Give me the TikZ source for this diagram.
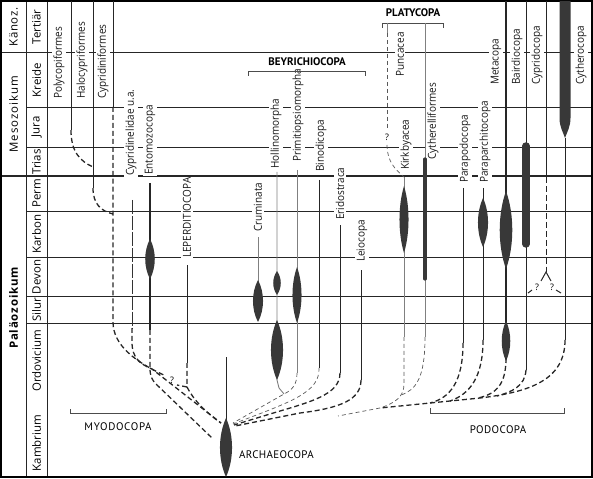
\documentclass[tikz,border=0pt]{standalone}
\usepackage{fontspec}
\setmainfont{Open Sans}
\newfontfamily\ptsans{PT Sans}
\newfontfamily\labfont{Open Sans}[FakeStretch=0.91]
\newcommand\spind[4]{\fill[spin] (#1,#2) .. controls ({#1+0.67*#4},{0.7*#2+0.3*#3}) and ({#1+0.67*#4},{0.3*#2+0.7*#3}) .. (#1,#3) .. controls ({#1-0.67*#4},{0.3*#2+0.7*#3}) and ({#1-0.67*#4},{0.7*#2+0.3*#3}) .. cycle;}
\begin{document}
\begin{tikzpicture}[x=1bp,y=-1bp,
  grid/.style={line width=0.8pt, black!85},
  lin/.style={line width=1pt, black!85},
  glin/.style={line width=0.9pt, black!50},
  dsh/.style={line width=1.3pt, black!85, dash pattern=on 5pt off 3pt},
  ldsh/.style={line width=1pt, black!80, dash pattern=on 14pt off 2pt},
  tdsh/.style={line width=0.7pt, black!65, dash pattern=on 4pt off 3pt},
  lab/.style={rotate=90, anchor=west, font=\labfont\fontsize{11}{12}\selectfont, inner xsep=1pt, inner ysep=1.5pt, fill=white, text=black!90},
  plab/.style={rotate=90, font=\fontsize{11.5}{12}\selectfont, inner sep=1pt},
  spin/.style={fill=black!78},
  brk/.style={line width=0.8pt, black!70},
  grp/.style={font=\ptsans\fontsize{11}{11}\selectfont\bfseries, inner sep=1pt},
  grpn/.style={font=\ptsans\fontsize{11}{11}\selectfont, inner sep=1pt},
  q/.style={font=\fontsize{9}{9}\selectfont, inner sep=0pt}]
\useasboundingbox (0,0) rectangle (593,479);
% grid
\draw[grid] (26,1) -- (26,477);
\draw[grid] (47,1) -- (47,477);
\draw[grid] (1,52) -- (592,52);
\foreach \yy in {107,147,211,257,296,323} \draw[grid] (26,\yy) -- (592,\yy);
\draw[grid, line width=1.6pt] (1,176) -- (592,176);
\draw[line width=1.8pt] (1,1) rectangle (592,477);
% era and period labels
\node[plab] (kz) at (13.5,27) {\addfontfeature{LetterSpace=6}Känoz.};
\node[plab] (mz) at (13.5,114) {\addfontfeature{LetterSpace=9}Mesozoikum};
\node[plab, font=\fontsize{11.5}{12}\selectfont\bfseries] (pz) at (13.5,308) {\addfontfeature{LetterSpace=7}Paläozoikum};
\node[plab] (te) at (36.5,27) {Tertiär};
\node[plab] (kr) at (36.5,80) {Kreide};
\node[plab] (ju) at (36.5,127) {Jura};
\node[plab] (tr) at (36.5,162) {Trias};
\node[plab] (pe) at (36.5,193) {Perm};
\node[plab] (ka) at (36.5,234) {Karbon};
\node[plab] (de) at (36.5,277) {Devon};
\node[plab] (si) at (36.5,310) {Silur};
\node[plab] (or) at (36.5,361) {Ordovicium};
\node[plab] (kb) at (36.5,443) {Kambrium};
% lineage labels
\node[lab] (poly) at (59,100) {Polycopiformes};
\node[lab] (halo) at (82,100) {Halocypriformes};
\node[lab] (cypn) at (103,100) {Cypridiniformes};
\node[lab] (cypl) at (131,177) {Cypridinelidae u.a.};
\node[lab] (ento) at (150,176) {Entomozocopa};
\node[lab] (lepe) at (187,259) {LEPERDITIOCOPA};
\node[lab] (crum) at (258,233) {Cruminata};
\node[lab] (holl) at (276,170) {Hollinomorpha};
\node[lab] (prim) at (298,163) {Primitiopsiomorpha};
\node[lab] (bino) at (321,173) {Binodicopa};
\node[lab] (erid) at (340,221) {Eridostraca};
\node[lab] (leio) at (362,263) {Leiocopa};
\node[lab] (punc) at (400,78) {Puncacea};
\node[lab] (kirk) at (406,171) {Kirkbyacea};
\node[lab] (cyth) at (433,161) {Cytherelliformes};
\node[lab] (parp) at (465,184) {Parapodocopa};
\node[lab] (para) at (485,184) {Paraparchitocopa};
\node[lab] (meta) at (496,86) {Metacopa};
\node[lab] (bair) at (517,86) {Bairdiocopa};
\node[lab] (cypr) at (537,86) {Cypridocopa};
\node[lab] (cyte) at (581,86) {Cytherocopa};
% group labels and brackets
\node[grp] (beyr) at (307,62) {BEYRICHIOCOPA};
\draw[brk] (248,76) -- (248,71) -- (365,71) -- (365,76);
\node[grp] (plat) at (413,13) {PLATYCOPA};
\draw[brk] (382,28) -- (382,23) -- (443,23) -- (443,28);
\node[grpn] (myod) at (118,427) {\addfontfeature{LetterSpace=6}MYODOCOPA};
\draw[brk] (70,409) -- (70,413) -- (166,413) -- (166,409);
\node[grpn] (podo) at (498,430) {\addfontfeature{LetterSpace=4}PODOCOPA};
\draw[brk] (430,408) -- (430,413) -- (564,413) -- (564,408);
\node[grpn, anchor=west] (arch) at (238,455) {\addfontfeature{LetterSpace=3}ARCHAEOCOPA};
% Myodocopa
\draw[lin] (71,1) -- (71,130);
\draw[dsh] (71,130) .. controls (71,152) and (80,161) .. (93,167);
\draw[lin] (93,1) -- (93,188);
\draw[dsh] (93,188) .. controls (93,204) and (101,211) .. (113,214);
\draw[lin] (113,1) -- (113,107);
\draw[dsh] (113,107) -- (113,322) .. controls (113,345) and (135,362) .. (166,376);
\draw[ldsh] (132,200) -- (132,328);
\draw[dsh] (132,328) -- (132,342) .. controls (132,358) and (140,364) .. (152,369) -- (221,423);
\draw[lin, line width=1.8pt] (150,183) -- (150,330);
\spind{150}{239}{279}{9.5}
\draw[dsh] (150,330) -- (150,368) .. controls (150,376) and (152,380) .. (156,384) -- (212,438);
\draw[lin] (187,265) -- (187,363);
\draw[dsh] (187,363) -- (187,387) -- (177,385);
\draw[dsh] (187,387) .. controls (193,399) and (205,412) .. (221,423);
\node[q] (q1) at (172,380) {?};
% Archaeocopa
\draw[lin] (226,357) -- (226,425);
\spind{226}{418}{477}{12}
% Beyrichiocopa
\draw[glin] (258,237) -- (258,282);
\spind{258}{280}{322}{10}
\draw[glin] (277,172) -- (277,380) -- (279,388) -- (284,394);
\spind{277}{271}{295}{7.5}
\spind{277}{320}{380}{12}
\draw[glin] (297,170) -- (297,373);
\spind{297}{267}{323}{9}
\draw[tdsh] (297,373) .. controls (297,385) and (292,390) .. (284,394) -- (233,423);
\draw[lin] (319,180) -- (319,368);
\draw[tdsh] (319,368) .. controls (320,393) and (290,402) .. (233,424);
\draw[lin] (340,225) -- (340,373);
\draw[dsh] (340,373) .. controls (340,395) and (310,402) .. (270,414) -- (234,425);
\draw[lin] (361,270) -- (361,380);
\draw[dsh] (361,380) .. controls (361,400) and (340,408) .. (300,413) -- (235,426);
% Platycopa
\draw[glin] (387,23) -- (387,33);
\draw[tdsh] (387,33) -- (387,129);
\node[q] (q2) at (387,137) {?};
\draw[tdsh] (387,145) .. controls (387,162) and (396,170) .. (404,177);
\draw[glin] (404,177) -- (404,337);
\spind{404}{186}{253}{9}
\draw[tdsh] (404,337) -- (404,384) .. controls (404,397) and (395,403) .. (380,408);
\draw[glin] (425,23) -- (425,337);
\draw[line width=3.2pt, line cap=round, black!78] (425,159) -- (425,279);
\draw[tdsh] (425,337) .. controls (425,378) and (416,390) .. (401,395);
% Podocopa
\fill[spin] (559.5,1) -- (559.5,118) .. controls (559.5,127) and (563,132) .. (565,138) .. controls (567,132) and (570.5,127) .. (570.5,118) -- (570.5,1) -- cycle;
\draw[lin] (565,138) -- (565,340);
\draw[dsh] (565,340) .. controls (565,380) and (530,392) .. (480,398) .. controls (440,402) and (410,405) .. (380,408);
\draw[tdsh] (380,408) -- (338,416);
\draw[lin] (463,188) -- (463,343);
\draw[dsh] (463,343) .. controls (463,382) and (450,398) .. (430,403);
\draw[lin] (483,188) -- (483,340);
\spind{483}{198}{247}{10}
\draw[dsh] (483,340) .. controls (483,377) and (470,394) .. (450,401);
\draw[lin, line width=1.3pt] (506,1) -- (506,358);
\spind{506}{191}{269}{12.5}
\spind{506}{321}{361}{8.5}
\draw[dsh] (506,358) .. controls (506,385) and (496,394) .. (478,398);
\draw[lin] (526,1) -- (526,370);
\draw[line width=7.5pt, line cap=round, black!78] (526,146) -- (526,244);
\draw[dsh] (526,370) .. controls (525,386) and (512,392) .. (497,396);
\draw[lin] (546,1) -- (546,177);
\draw[lin, dash pattern=on 6pt off 3pt] (546,177) -- (546,272);
\draw[lin] (541,281) -- (546,272) -- (551,281);
\node[q] (q3) at (537,287) {?};
\node[q] (q4) at (552,287) {?};
\draw[lin] (532,290) -- (528,293);
\draw[lin] (556,290) -- (561,293);
\end{tikzpicture}
\end{document}
